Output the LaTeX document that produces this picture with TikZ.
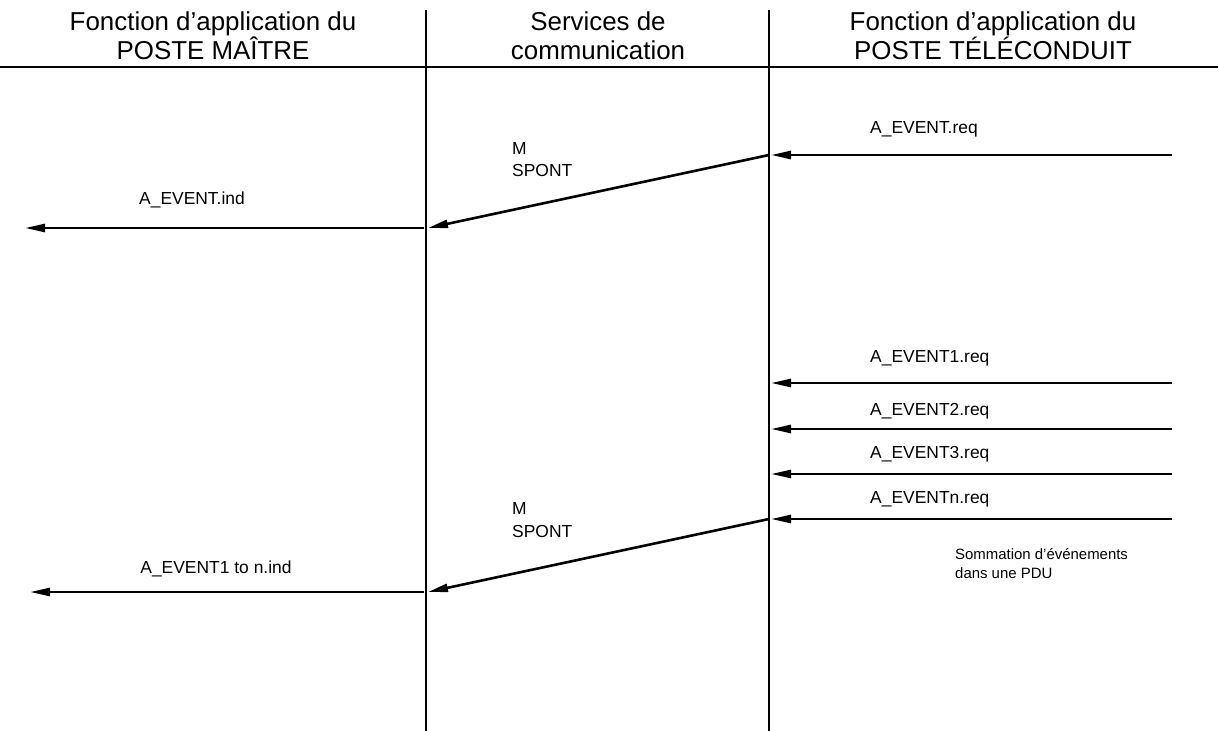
\documentclass[tikz,border=0pt]{standalone}
\usepackage{fontspec}
\setmainfont{Liberation Sans}
\usetikzlibrary{arrows.meta}
\begin{document}
\begin{tikzpicture}[x=1bp,y=-1bp,
  msg/.style={line width=2.6bp,-{Triangle[length=20bp,width=8bp]}},
  lifeline/.style={line width=2bp},
  rule/.style={line width=2.6bp},
  head/.style={font=\fontsize{26}{29}\selectfont, align=center, inner sep=0pt},
  lbl/.style={font=\fontsize{17.5}{22}\selectfont, anchor=base, inner sep=0pt},
  lblw/.style={lbl, anchor=base west},
  spont/.style={font=\fontsize{17.5}{23}\selectfont, align=left, anchor=base west, inner sep=0pt},
  note/.style={font=\fontsize{15}{19}\selectfont, align=left, anchor=base west, inner sep=0pt}]
\useasboundingbox (0,0) rectangle (1218,731);

% column headings
\node[head] (hA) at (213,36) {Fonction d’application du\\POSTE MAÎTRE};
\node[head] (hB) at (598,36) {Services de\\communication};
\node[head] (hC) at (993,36) {Fonction d’application du\\POSTE TÉLÉCONDUIT};
\draw[rule] (0,67) -- (1218,67);

% lifelines of the master and remote stations
\coordinate (mTop) at (426,10);  \coordinate (mBot) at (426,731);
\coordinate (sTop) at (769,10);  \coordinate (sBot) at (769,731);
\draw[lifeline] (mTop) -- (mBot);
\draw[lifeline] (sTop) -- (sBot);

% single event
\coordinate (r0) at (1172,155); \coordinate (s0) at (771,155);
\coordinate (s0d) at (769,155); \coordinate (m0) at (428,228);
\coordinate (m0s) at (424,228); \coordinate (l0) at (25,228);
\draw[msg] (r0) -- (s0);
\draw[msg] (s0d) -- (m0);
\draw[msg] (m0s) -- (l0);
\node[lblw] (tReq) at (870,134) {A\_EVENT.req};
\node[spont] (tSp0) at (512,177) {M\\SPONT};
\node[lbl] (tInd) at (192,205) {A\_EVENT.ind};

% several events summed up in one PDU
\coordinate (r1) at (1172,383); \coordinate (s1) at (771,383);
\coordinate (r2) at (1172,429); \coordinate (s2) at (771,429);
\coordinate (r3) at (1172,474); \coordinate (s3) at (771,474);
\coordinate (r4) at (1172,519); \coordinate (s4) at (771,519);
\draw[msg] (r1) -- (s1);
\draw[msg] (r2) -- (s2);
\draw[msg] (r3) -- (s3);
\draw[msg] (r4) -- (s4);
\node[lblw] (tReq1) at (870,362) {A\_EVENT1.req};
\node[lblw] (tReq2) at (870,415) {A\_EVENT2.req};
\node[lblw] (tReq3) at (870,458) {A\_EVENT3.req};
\node[lblw] (tReqn) at (870,503) {A\_EVENTn.req};

\coordinate (s4d) at (769,519); \coordinate (m1) at (428,592);
\coordinate (m1s) at (424,592); \coordinate (l1) at (30,592);
\draw[msg] (s4d) -- (m1);
\draw[msg] (m1s) -- (l1);
\node[spont] (tSp1) at (512,537) {M\\SPONT};
\node[lbl] (tInd1) at (216,573) {A\_EVENT1 to n.ind};
\node[note] (tSum) at (955,578) {Sommation d’événements\\dans une PDU};
\end{tikzpicture}
\end{document}
